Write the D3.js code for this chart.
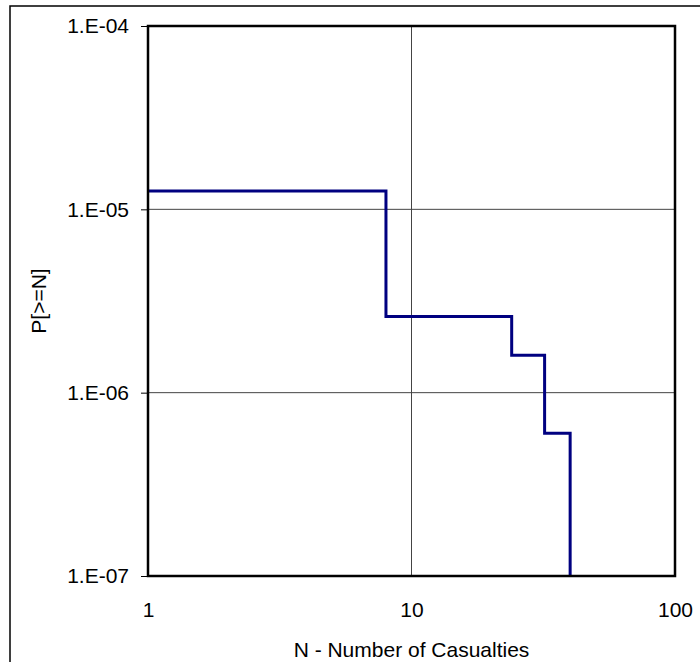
<!DOCTYPE html>
<html>
<head>
<meta charset="utf-8">
<script src="https://cdn.jsdelivr.net/npm/d3@7"></script>
<style>
  body { margin: 0; background: #fff; }
  svg { display: block; }
  .axes-font text { font-family: "Liberation Sans", Arial, sans-serif; font-size: 21px; fill: #000; }
</style>
</head>
<body>
<div id="vis1"></div>
<script>
const FRAME_WIDTH = 700;
const FRAME_HEIGHT = 662;
const MARGINS = {left: 148, right: 25, top: 26, bottom: 86};

const VIS_WIDTH = FRAME_WIDTH - MARGINS.left - MARGINS.right;
const VIS_HEIGHT = FRAME_HEIGHT - MARGINS.top - MARGINS.bottom;

// step curve
const casualties = [1, 8, 24, 32, 40];
const probability = [1.26e-5, 2.6e-6, 1.6e-6, 6.0e-7, 1e-7];

const xTicks = [1, 10, 100];
const xTickLabels = ["1", "10", "100"];
const yTicks = [1e-7, 1e-6, 1e-5, 1e-4];
const yTickLabels = ["1.E-07", "1.E-06", "1.E-05", "1.E-04"];

const FRAME1 = d3.select("#vis1")
                  .append("svg")
                  .attr("width", FRAME_WIDTH)
                  .attr("height", FRAME_HEIGHT);

// outer border (only left and top fall inside the picture)
FRAME1.append("rect")
      .attr("x", 10).attr("y", 6)
      .attr("width", 800).attr("height", 800)
      .attr("fill", "none")
      .attr("stroke", "#000")
      .attr("stroke-width", 1.5);

const X_Scale = d3.scaleLog().domain([1, 100]).range([MARGINS.left, MARGINS.left + VIS_WIDTH]);
const Y_Scale = d3.scaleLog().domain([1e-7, 1e-4]).range([MARGINS.top + VIS_HEIGHT, MARGINS.top]);

// grid lines
FRAME1.append("g")
      .selectAll("line")
      .data(xTicks)
      .enter().append("line")
      .attr("x1", d => X_Scale(d)).attr("x2", d => X_Scale(d))
      .attr("y1", MARGINS.top).attr("y2", MARGINS.top + VIS_HEIGHT)
      .attr("stroke", "#444").attr("stroke-width", 1);

FRAME1.append("g")
      .selectAll("line")
      .data(yTicks)
      .enter().append("line")
      .attr("x1", MARGINS.left).attr("x2", MARGINS.left + VIS_WIDTH)
      .attr("y1", d => Y_Scale(d)).attr("y2", d => Y_Scale(d))
      .attr("stroke", "#444").attr("stroke-width", 1);

// y axis
const yAxis = FRAME1.append("g")
      .attr("transform", "translate(" + MARGINS.left + ",0)")
      .attr("class", "axes-font")
      .call(d3.axisLeft(Y_Scale)
              .tickValues(yTicks)
              .tickFormat((d, i) => yTickLabels[i])
              .tickSize(7)
              .tickPadding(12));
yAxis.select(".domain").remove();
yAxis.selectAll("line").attr("stroke", "#000");

// x axis
const xAxis = FRAME1.append("g")
      .attr("transform", "translate(0," + (MARGINS.top + VIS_HEIGHT) + ")")
      .attr("class", "axes-font")
      .call(d3.axisBottom(X_Scale)
              .tickValues(xTicks)
              .tickFormat((d, i) => xTickLabels[i])
              .tickSize(0)
              .tickPadding(26));
xAxis.select(".domain").remove();

// step line
const line = d3.line()
               .x((d, i) => X_Scale(casualties[i]))
               .y((d, i) => Y_Scale(probability[i]))
               .curve(d3.curveStepAfter);

FRAME1.append("path")
      .datum(casualties)
      .attr("d", line)
      .attr("fill", "none")
      .attr("stroke", "#000080")
      .attr("stroke-width", 3);

// plot frame
FRAME1.append("rect")
      .attr("x", MARGINS.left).attr("y", MARGINS.top)
      .attr("width", VIS_WIDTH).attr("height", VIS_HEIGHT)
      .attr("fill", "none")
      .attr("stroke", "#000")
      .attr("stroke-width", 2.5);

// axis titles
FRAME1.append("text")
      .attr("x", MARGINS.left + VIS_WIDTH / 2)
      .attr("y", 657)
      .attr("text-anchor", "middle")
      .style("font-family", "Liberation Sans, Arial, sans-serif")
      .style("font-size", "21px")
      .text("N - Number of Casualties");

FRAME1.append("text")
      .attr("transform", "translate(46," + (MARGINS.top + VIS_HEIGHT / 2) + ") rotate(-90)")
      .attr("text-anchor", "middle")
      .style("font-family", "Liberation Sans, Arial, sans-serif")
      .style("font-size", "21px")
      .text("P[>=N]");
</script>
</body>
</html>
